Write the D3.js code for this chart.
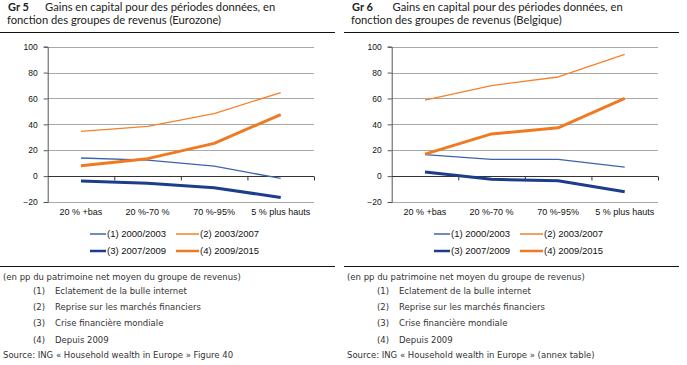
<!DOCTYPE html>
<html><head><meta charset="utf-8">
<script src="https://cdn.jsdelivr.net/npm/d3@7"></script>
<style>
body{margin:0;background:#fff;}
svg{display:block;}
</style></head>
<body>
<svg id="c" width="687" height="365"></svg>
<script>
const categories = ["20 % +bas", "20 %-70 %", "70 %-95%", "5 % plus hauts"];
const seriesNames = ["(1) 2000/2003", "(2) 2003/2007", "(3) 2007/2009", "(4) 2009/2015"];
const euro_s1 = [14, 12.4, 7.7, -1.8];
const euro_s2 = [34.5, 38.5, 48.3, 64.5];
const euro_s3 = [-3.8, -5.6, -9, -16.5];
const euro_s4 = [8, 13.5, 25.3, 47.6];
const bel_s1 = [16.6, 13, 13, 7];
const bel_s2 = [58.7, 70, 76.6, 94];
const bel_s3 = [3.1, -2.5, -3.5, -12];
const bel_s4 = [17, 32.6, 37.3, 60];
const yTicks = [-20, 0, 20, 40, 60, 80, 100];
const notes = ["Eclatement  de la bulle internet", "Reprise sur les marchés financiers", "Crise financière  mondiale", "Depuis 2009"];
const unitNote = "(en pp du patrimoine  net moyen du groupe de revenus)";

const seriesStyle = [
  {color:"#3d63ad", width:1.3},
  {color:"#f5822a", width:1.3},
  {color:"#1c3d8c", width:3},
  {color:"#ef7a22", width:3}
];

const svg = d3.select("#c");

function panel(ox, num, gapX, region, data, source){
  const g = svg.append("g").attr("transform", `translate(${ox},0)`);
  const tf = "Lato, 'Open Sans', sans-serif";
  // title
  g.append("text").attr("x", 8).attr("y", 11).attr("fill","#222").attr("font-weight","bold")
    .style("font-family",tf).style("font-size","11px").text(num);
  g.append("text").attr("x", gapX).attr("y", 11).attr("fill","#222")
    .style("font-family",tf).style("font-size","11.2px").text("Gains en capital pour des périodes données, en");
  g.append("text").attr("x", 7).attr("y", 23.5).attr("fill","#222")
    .style("font-family",tf).style("font-size","11.2px")
    .text("fonction des groupes de revenus (" + region + ")");
  g.append("line").attr("x1",0).attr("x2",335).attr("y1",32.5).attr("y2",32.5)
    .attr("stroke","#111").attr("stroke-width",1);

  const x0 = 47.7, x1 = 314;
  const y = d3.scaleLinear().domain([-20,100]).range([202,46.7]);
  const xb = d3.scaleBand().domain(categories).range([x0,x1]);
  const xi = d3.scaleLinear().domain([0,4]).range([x0,x1]);

  // grid
  g.append("g").selectAll("line").data(yTicks.filter(v=>v!==0)).join("line")
    .attr("x1",x0).attr("x2",x1).attr("y1",d=>Math.round(y(d))+0.5).attr("y2",d=>Math.round(y(d))+0.5)
    .attr("stroke","#a9a9a9").attr("stroke-width",1);

  // y axis
  const ya = g.append("g").attr("transform",`translate(${x0},0)`)
    .call(d3.axisLeft(y).tickValues(yTicks).tickSize(4).tickPadding(6));
  ya.selectAll("path,line").attr("stroke","#555");
  ya.selectAll("text").style("font-family","'Liberation Sans', Arial, sans-serif").style("font-size","8.5px").attr("fill","#111");

  // x axis at zero
  const xa = g.append("g").attr("transform",`translate(0,${Math.round(y(0))+0.5})`)
    .call(d3.axisBottom(xi).tickValues([1,2,3,4]).tickSize(4).tickFormat(""));
  xa.selectAll("path,line").attr("stroke","#333");
  xa.select(".domain").attr("d",`M${x0},0H${x1}`);

  // category labels
  g.append("g").selectAll("text").data(categories).join("text")
    .attr("x", d=>xb(d)+xb.bandwidth()/2).attr("y", 215)
    .attr("text-anchor","middle").attr("fill","#111")
    .style("font-family","'Liberation Sans', Arial, sans-serif").style("font-size","9px")
    .text(d=>d);

  const line = d3.line().x((d,i)=>xb(categories[i])+xb.bandwidth()/2).y(d=>y(d));
  data.forEach((s,i)=>{
    g.append("path").datum(s).attr("d",line).attr("fill","none")
      .attr("stroke",seriesStyle[i].color).attr("stroke-width",seriesStyle[i].width)
      .attr("stroke-linejoin","round").attr("stroke-linecap","butt");
  });

  // legend
  const legPos = [[90,234],[176,234],[90,251],[176,251]];
  seriesNames.forEach((n,i)=>{
    const [lx,ly] = legPos[i];
    const lw = i%2===0 ? 16 : 23;
    g.append("line").attr("x1",lx).attr("x2",lx+lw).attr("y1",ly).attr("y2",ly)
      .attr("stroke",seriesStyle[i].color).attr("stroke-width",seriesStyle[i].width===3?2.5:1.5);
    g.append("text").attr("x",lx+lw+1).attr("y",ly+3.3).attr("fill","#111")
      .style("font-family","'Liberation Sans', Arial, sans-serif").style("font-size","9.5px")
      .text(n);
  });

  g.append("line").attr("x1",0).attr("x2",335).attr("y1",266.5).attr("y2",266.5)
    .attr("stroke","#111").attr("stroke-width",1);

  const nf = "'DejaVu Sans', Tahoma, sans-serif";
  const ns = "8.5px";
  g.append("text").attr("x",3).attr("y",279.5).attr("fill","#333")
    .style("font-family",nf).style("font-size",ns).text(unitNote);
  notes.forEach((n,i)=>{
    const yy = 294 + i*16.2;
    g.append("text").attr("x",33).attr("y",yy).attr("fill","#333")
      .style("font-family",nf).style("font-size",ns).text("(" + (i+1) + ")");
    g.append("text").attr("x",55).attr("y",yy).attr("fill","#333")
      .style("font-family",nf).style("font-size",ns).text(n);
  });
  g.append("text").attr("x",3).attr("y",358).attr("fill","#333")
    .style("font-family",nf).style("font-size",ns).text(source);
}

panel(0, "Gr 5", 45, "Eurozone", [euro_s1, euro_s2, euro_s3, euro_s4], "Source: ING « Household  wealth in Europe » Figure 40");
panel(344, "Gr 6", 48.5, "Belgique", [bel_s1, bel_s2, bel_s3, bel_s4], "Source: ING « Household  wealth in Europe » (annex table)");
</script>
</body></html>
